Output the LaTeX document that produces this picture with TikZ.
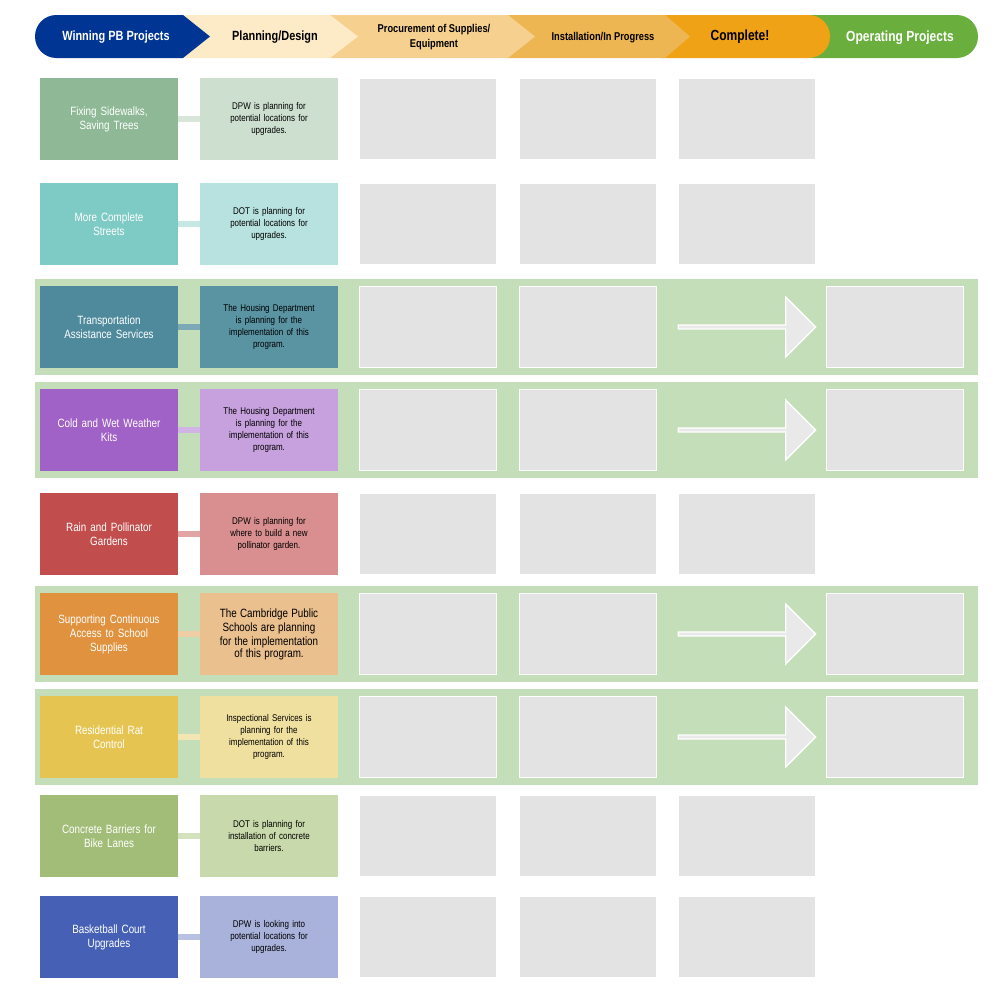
\documentclass[tikz,border=0pt]{standalone}
\usepackage{fontspec}
\setmainfont{Liberation Sans}[FakeStretch=0.82]
\usetikzlibrary{shapes.arrows}
\definecolor{navy}{HTML}{003594}
\definecolor{stepa}{HTML}{FDEBC8}
\definecolor{stepb}{HTML}{F5D08E}
\definecolor{stepc}{HTML}{EDB653}
\definecolor{stepd}{HTML}{F0A216}
\definecolor{stepe}{HTML}{6AAE3E}
\definecolor{bandgreen}{HTML}{C3DEB8}
\definecolor{cellgrey}{HTML}{E3E3E3}
\definecolor{sidewalk}{HTML}{8FB996}\definecolor{sidewalkl}{HTML}{CDE0D0}
\definecolor{streets}{HTML}{7ECAC4}\definecolor{streetsl}{HTML}{B8E2DF}
\definecolor{transit}{HTML}{4E8A9C}\definecolor{transitl}{HTML}{5A94A3}
\definecolor{kits}{HTML}{A062C6}\definecolor{kitsl}{HTML}{C7A0DE}
\definecolor{garden}{HTML}{C24D4D}\definecolor{gardenl}{HTML}{D98F8F}
\definecolor{school}{HTML}{E0923E}\definecolor{schooll}{HTML}{EBC08F}
\definecolor{rat}{HTML}{E5C451}\definecolor{ratl}{HTML}{F0E0A0}
\definecolor{bike}{HTML}{A2BD78}\definecolor{bikel}{HTML}{C8D9AB}
\definecolor{court}{HTML}{4560B5}\definecolor{courtl}{HTML}{A8B2DB}
\tikzset{proj/.style={minimum width=103pt,minimum height=61pt,text width=96pt,align=center,
           text=white,font=\fontsize{9}{10.5}\selectfont,inner sep=0pt},
         plan/.style={minimum width=103pt,minimum height=61pt,text width=96pt,align=center,
           text=black,font=\fontsize{7.3}{9}\selectfont,inner sep=0pt},
         cell/.style={fill=cellgrey,draw=white,line width=1pt,minimum width=103pt,minimum height=61pt},
         link/.style={line width=4.5pt},
         band/.style={fill=bandgreen},
         stage/.style={font=\bfseries\fontsize{10}{12}\selectfont,align=center},
         bigarrow/.style={single arrow,fill=cellgrey!80!white,draw=white,line width=1pt,
           minimum width=45pt,minimum height=103pt,single arrow head extend=7pt,inner sep=0pt}
}
% one project row: name, y, project colour, plan colour, project text, plan text
\newcommand\pbrow[6]{%
  \node[proj,fill=#3] (p#1) at (109,#2) {#5};
  \node[plan,fill=#4] (d#1) at (269,#2) {#6};
  \draw[link,draw=#4!80!white] (p#1) -- (d#1);
  \node[cell] (s#1) at (428,#2) {};
  \node[cell] (i#1) at (588,#2) {};
}
\newcommand\pbopen[2]{\node[cell] (c#1) at (747,#2) {};}
\newcommand\pbdone[2]{%
  \node[bigarrow] (a#1) at (746,#2) {};
  \node[cell] (o#1) at (895,#2) {};
}
\begin{document}
\begin{tikzpicture}[x=0.75pt,y=-0.75pt]
\useasboundingbox (0,0) rectangle (1000,990);

% header
\fill[stepe,rounded corners=16pt] (790,15) rectangle (978,58);
\fill[stepd,rounded corners=16pt] (640,15) rectangle (830,58);
\fill[stepc] (505,15) -- (665,15) -- (690,36.5) -- (665,58) -- (505,58) -- cycle;
\fill[stepb] (330,15) -- (508,15) -- (535,36.5) -- (508,58) -- (330,58) -- cycle;
\fill[stepa] (185,15) -- (330,15) -- (358,36.5) -- (330,58) -- (185,58) -- cycle;
\fill[navy] (183,15) -- (210,36.5) -- (183,58) [rounded corners=16pt] -- (35,58) -- (35,15) [sharp corners] -- cycle;
\node[stage,text=white] (h1) at (116,37) {Winning PB Projects};
\node[stage] (h2) at (275,37) {Planning/Design};
\node[stage,font=\bfseries\fontsize{8.5}{11}\selectfont] (h3) at (434,37) {Procurement of Supplies/\\Equipment};
\node[stage,font=\bfseries\fontsize{8.5}{11}\selectfont] (h4) at (603,38) {Installation/In Progress};
\node[stage,font=\bfseries\fontsize{11}{13}\selectfont] (h5) at (740,37) {Complete!};
\node[stage,text=white,font=\bfseries\fontsize{11}{13}\selectfont] (h6) at (900,38) {Operating Projects};

% bands
\foreach \y in {327,430,634,737}
  \fill[band] (35,\y-48) rectangle (978,\y+48);

\pbrow{a}{119}{sidewalk}{sidewalkl}{Fixing Sidewalks,\\Saving Trees}{DPW is planning for\\potential locations for\\upgrades.}
\pbopen{a}{119}
\pbrow{b}{224}{streets}{streetsl}{More Complete\\Streets}{DOT is planning for\\potential locations for\\upgrades.}
\pbopen{b}{224}
\pbrow{c}{327}{transit}{transitl}{Transportation\\Assistance Services}{The Housing Department\\is planning for the\\implementation of this\\program.}
\pbdone{c}{327}
\pbrow{d}{430}{kits}{kitsl}{Cold and Wet Weather\\Kits}{The Housing Department\\is planning for the\\implementation of this\\program.}
\pbdone{d}{430}
\pbrow{e}{534}{garden}{gardenl}{Rain and Pollinator\\Gardens}{DPW is planning for\\where to build a new\\pollinator garden.}
\pbopen{e}{534}
\pbrow{f}{634}{school}{schooll}{Supporting Continuous\\Access to School\\Supplies}{\fontsize{9}{10.5}\selectfont The Cambridge Public\\Schools are planning\\for the implementation\\of this program.}
\pbdone{f}{634}
\pbrow{g}{737}{rat}{ratl}{Residential Rat\\Control}{Inspectional Services is\\planning for the\\implementation of this\\program.}
\pbdone{g}{737}
\pbrow{h}{836}{bike}{bikel}{Concrete Barriers for\\Bike Lanes}{DOT is planning for\\installation of concrete\\barriers.}
\pbopen{h}{836}
\pbrow{i}{937}{court}{courtl}{Basketball Court\\Upgrades}{DPW is looking into\\potential locations for\\upgrades.}
\pbopen{i}{937}
\end{tikzpicture}
\end{document}
